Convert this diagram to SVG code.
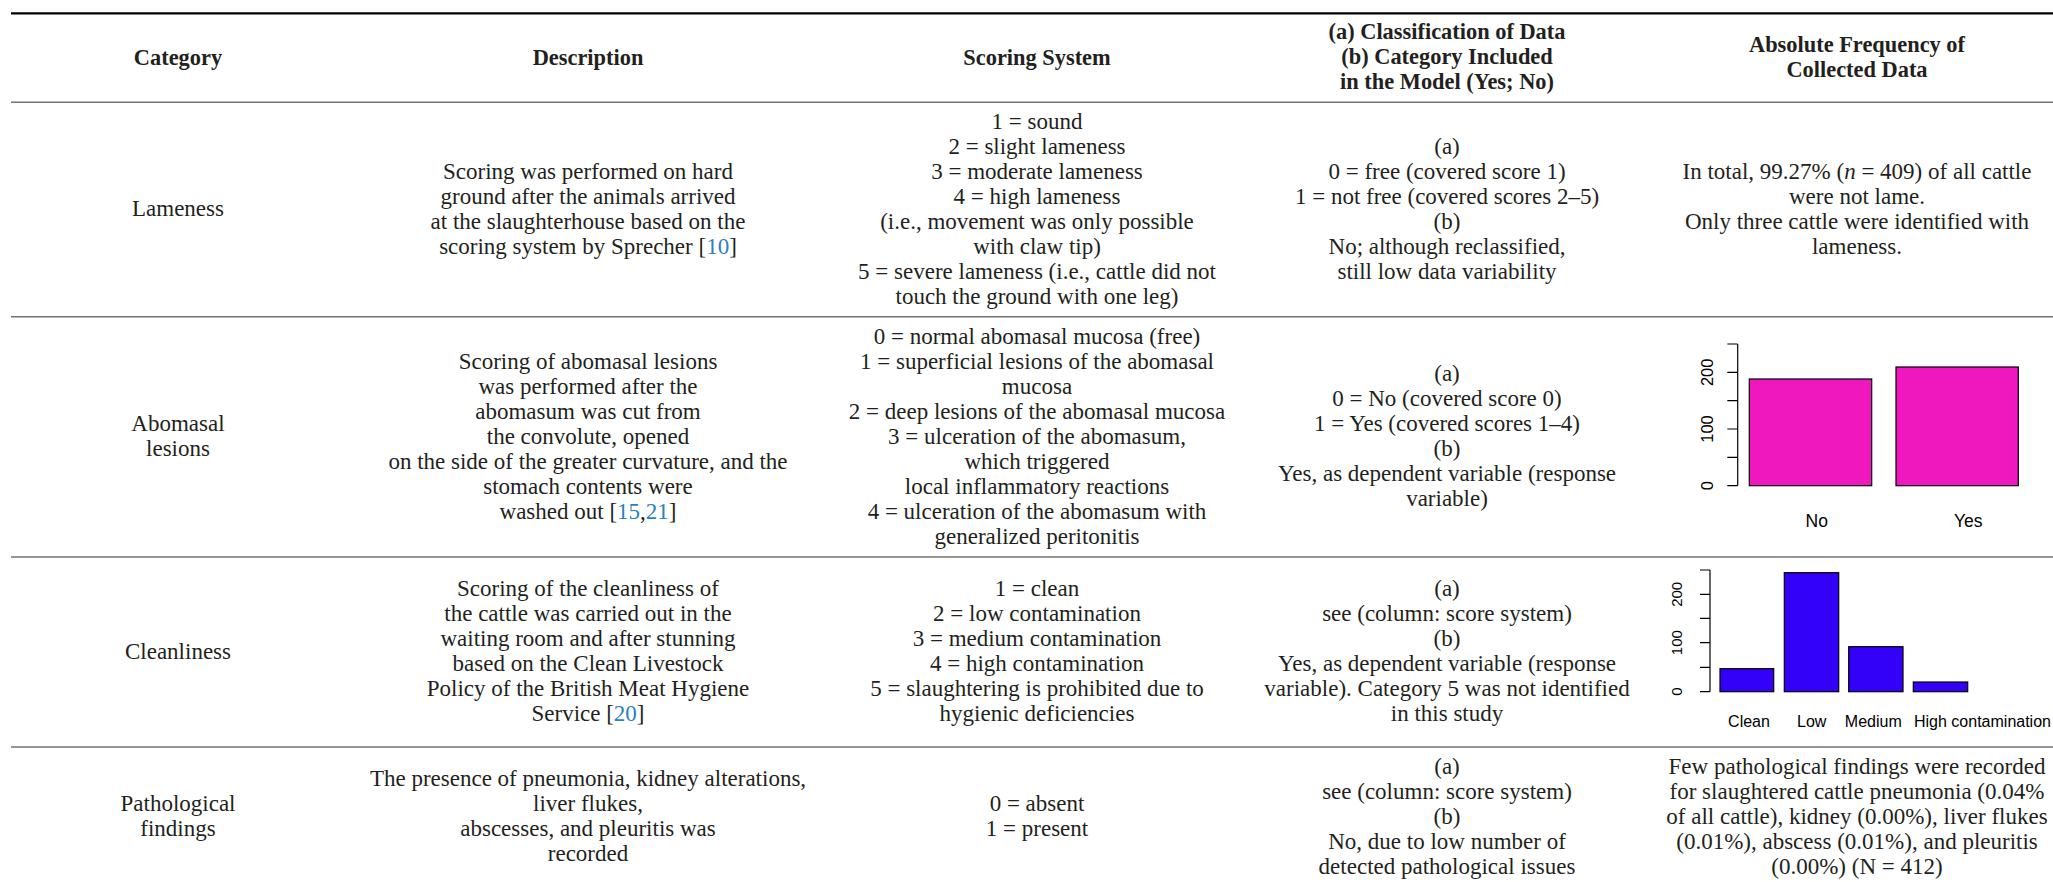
<svg xmlns="http://www.w3.org/2000/svg" width="2053" height="882" viewBox="0 0 2053 882">
<style>
  text { font-family: "Liberation Serif", "Times New Roman", serif; font-size: 23px; fill: #231f20; text-anchor: middle; }
  .hd { font-weight: bold; font-size: 22.4px; }
  .ref { fill: #2a7fc4; }
  .it { font-style: italic; }
  .rule { stroke: #737373; stroke-width: 1.4; fill: none; }
  .top { stroke: #000; stroke-width: 2.2; fill: none; }
  .ax { stroke: #000; stroke-width: 1.2; fill: none; }
  .bar { stroke: #000; stroke-width: 1.2; }
  .mag { fill: #ef18bf; }
  .blu { fill: #3300f8; }
  text.ch { font-family: "Liberation Sans", Arial, sans-serif; fill: #000; }
  text.s15 { font-size: 15px; }
  text.s16 { font-size: 16px; }
  text.s165 { font-size: 16.5px; }
  text.s175 { font-size: 17.5px; }
  text.st { text-anchor: start; }
</style>

<g id="rules">
  <line class="top" x1="11" y1="13.3" x2="2053" y2="13.3"/>
  <line class="rule" x1="11" y1="102.3" x2="2053" y2="102.3"/>
  <line class="rule" x1="11" y1="316.7" x2="2053" y2="316.7"/>
  <line class="rule" x1="11" y1="557" x2="2053" y2="557"/>
  <line class="rule" x1="11" y1="747" x2="2053" y2="747"/>
</g>

<g id="header">
  <text class="hd" x="178" y="65">Category</text>
  <text class="hd" x="588" y="65">Description</text>
  <text class="hd" x="1037" y="65">Scoring System</text>
  <text class="hd" x="1447" y="39">(a) Classification of Data<tspan x="1447" dy="25">(b) Category Included</tspan><tspan x="1447" dy="25">in the Model (Yes; No)</tspan></text>
  <text class="hd" x="1857" y="52">Absolute Frequency of<tspan x="1857" dy="25">Collected Data</tspan></text>
</g>

<g id="row-lameness">
  <text x="178" y="216">Lameness</text>
  <text x="588" y="178.5">Scoring was performed on hard<tspan x="588" dy="25">ground after the animals arrived</tspan><tspan x="588" dy="25">at the slaughterhouse based on the</tspan><tspan x="588" dy="25">scoring system by Sprecher [<tspan class="ref">10</tspan>]</tspan></text>
  <text x="1037" y="128.5">1 = sound<tspan x="1037" dy="25">2 = slight lameness</tspan><tspan x="1037" dy="25">3 = moderate lameness</tspan><tspan x="1037" dy="25">4 = high lameness</tspan><tspan x="1037" dy="25">(i.e., movement was only possible</tspan><tspan x="1037" dy="25">with claw tip)</tspan><tspan x="1037" dy="25">5 = severe lameness (i.e., cattle did not</tspan><tspan x="1037" dy="25">touch the ground with one leg)</tspan></text>
  <text x="1447" y="153.5">(a)<tspan x="1447" dy="25">0 = free (covered score 1)</tspan><tspan x="1447" dy="25">1 = not free (covered scores 2–5)</tspan><tspan x="1447" dy="25">(b)</tspan><tspan x="1447" dy="25">No; although reclassified,</tspan><tspan x="1447" dy="25">still low data variability</tspan></text>
  <text x="1857" y="178.5">In total, 99.27% (<tspan class="it">n</tspan> = 409) of all cattle<tspan x="1857" dy="25">were not lame.</tspan><tspan x="1857" dy="25">Only three cattle were identified with</tspan><tspan x="1857" dy="25">lameness.</tspan></text>
</g>

<g id="row-abomasal">
  <text x="178" y="431">Abomasal<tspan x="178" dy="25">lesions</tspan></text>
  <text x="588" y="368.5">Scoring of abomasal lesions<tspan x="588" dy="25">was performed after the</tspan><tspan x="588" dy="25">abomasum was cut from</tspan><tspan x="588" dy="25">the convolute, opened</tspan><tspan x="588" dy="25">on the side of the greater curvature, and the</tspan><tspan x="588" dy="25">stomach contents were</tspan><tspan x="588" dy="25">washed out [<tspan class="ref">15</tspan>,<tspan class="ref">21</tspan>]</tspan></text>
  <text x="1037" y="343.5">0 = normal abomasal mucosa (free)<tspan x="1037" dy="25">1 = superficial lesions of the abomasal</tspan><tspan x="1037" dy="25">mucosa</tspan><tspan x="1037" dy="25">2 = deep lesions of the abomasal mucosa</tspan><tspan x="1037" dy="25">3 = ulceration of the abomasum,</tspan><tspan x="1037" dy="25">which triggered</tspan><tspan x="1037" dy="25">local inflammatory reactions</tspan><tspan x="1037" dy="25">4 = ulceration of the abomasum with</tspan><tspan x="1037" dy="25">generalized peritonitis</tspan></text>
  <text x="1447" y="381">(a)<tspan x="1447" dy="25">0 = No (covered score 0)</tspan><tspan x="1447" dy="25">1 = Yes (covered scores 1–4)</tspan><tspan x="1447" dy="25">(b)</tspan><tspan x="1447" dy="25">Yes, as dependent variable (response</tspan><tspan x="1447" dy="25">variable)</tspan></text>
  <g id="chart-abomasal">
    <line class="ax" x1="1737.7" y1="344" x2="1737.7" y2="485.7"/>
    <path class="ax" d="M1727.3 344H1737.7M1727.3 372.3H1737.7M1727.3 400.7H1737.7M1727.3 429H1737.7M1727.3 457.3H1737.7M1727.3 485.7H1737.7"/>
    <text class="ch s165" transform="translate(1712.7,485.7) rotate(-90)">0</text>
    <text class="ch s165" transform="translate(1712.7,429) rotate(-90)">100</text>
    <text class="ch s165" transform="translate(1712.7,372.3) rotate(-90)">200</text>
    <rect class="bar mag" x="1749.3" y="379" width="122.4" height="106.7"/>
    <rect class="bar mag" x="1896" y="367" width="122.3" height="118.7"/>
    <text class="ch s175" x="1816.7" y="526.7">No</text>
    <text class="ch s175" x="1968.3" y="526.7">Yes</text>
  </g>
</g>

<g id="row-cleanliness">
  <text x="178" y="658.5">Cleanliness</text>
  <text x="588" y="596">Scoring of the cleanliness of<tspan x="588" dy="25">the cattle was carried out in the</tspan><tspan x="588" dy="25">waiting room and after stunning</tspan><tspan x="588" dy="25">based on the Clean Livestock</tspan><tspan x="588" dy="25">Policy of the British Meat Hygiene</tspan><tspan x="588" dy="25">Service [<tspan class="ref">20</tspan>]</tspan></text>
  <text x="1037" y="596">1 = clean<tspan x="1037" dy="25">2 = low contamination</tspan><tspan x="1037" dy="25">3 = medium contamination</tspan><tspan x="1037" dy="25">4 = high contamination</tspan><tspan x="1037" dy="25">5 = slaughtering is prohibited due to</tspan><tspan x="1037" dy="25">hygienic deficiencies</tspan></text>
  <text x="1447" y="596">(a)<tspan x="1447" dy="25">see (column: score system)</tspan><tspan x="1447" dy="25">(b)</tspan><tspan x="1447" dy="25">Yes, as dependent variable (response</tspan><tspan x="1447" dy="25">variable). Category 5 was not identified</tspan><tspan x="1447" dy="25">in this study</tspan></text>
  <g id="chart-cleanliness">
    <line class="ax" x1="1710" y1="570" x2="1710" y2="691.7"/>
    <path class="ax" d="M1700 570H1710M1700 594.3H1710M1700 618.3H1710M1700 642.7H1710M1700 667.3H1710M1700 691.7H1710"/>
    <text class="ch s15" transform="translate(1681.7,691.7) rotate(-90)">0</text>
    <text class="ch s15" transform="translate(1681.7,642.7) rotate(-90)">100</text>
    <text class="ch s15" transform="translate(1681.7,594.3) rotate(-90)">200</text>
    <rect class="bar blu" x="1720" y="668.7" width="53.7" height="23"/>
    <rect class="bar blu" x="1784.3" y="572.7" width="54.4" height="119"/>
    <rect class="bar blu" x="1848.7" y="646.7" width="54.3" height="45"/>
    <rect class="bar blu" x="1913.3" y="682" width="54.4" height="9.7"/>
    <text class="ch s16" x="1749" y="726.7">Clean</text>
    <text class="ch s16" x="1811.7" y="726.7">Low</text>
    <text class="ch s16" x="1873.3" y="726.7">Medium</text>
    <text class="ch s16 st" x="1914" y="726.7">High contamination</text>
  </g>
</g>

<g id="row-pathological">
  <text x="178" y="811">Pathological<tspan x="178" dy="25">findings</tspan></text>
  <text x="588" y="786">The presence of pneumonia, kidney alterations,<tspan x="588" dy="25">liver flukes,</tspan><tspan x="588" dy="25">abscesses, and pleuritis was</tspan><tspan x="588" dy="25">recorded</tspan></text>
  <text x="1037" y="811">0 = absent<tspan x="1037" dy="25">1 = present</tspan></text>
  <text x="1447" y="773.5">(a)<tspan x="1447" dy="25">see (column: score system)</tspan><tspan x="1447" dy="25">(b)</tspan><tspan x="1447" dy="25">No, due to low number of</tspan><tspan x="1447" dy="25">detected pathological issues</tspan></text>
  <text x="1857" y="773.5">Few pathological findings were recorded<tspan x="1857" dy="25">for slaughtered cattle pneumonia (0.04%</tspan><tspan x="1857" dy="25">of all cattle), kidney (0.00%), liver flukes</tspan><tspan x="1857" dy="25">(0.01%), abscess (0.01%), and pleuritis</tspan><tspan x="1857" dy="25">(0.00%) (N = 412)</tspan></text>
</g>
</svg>
